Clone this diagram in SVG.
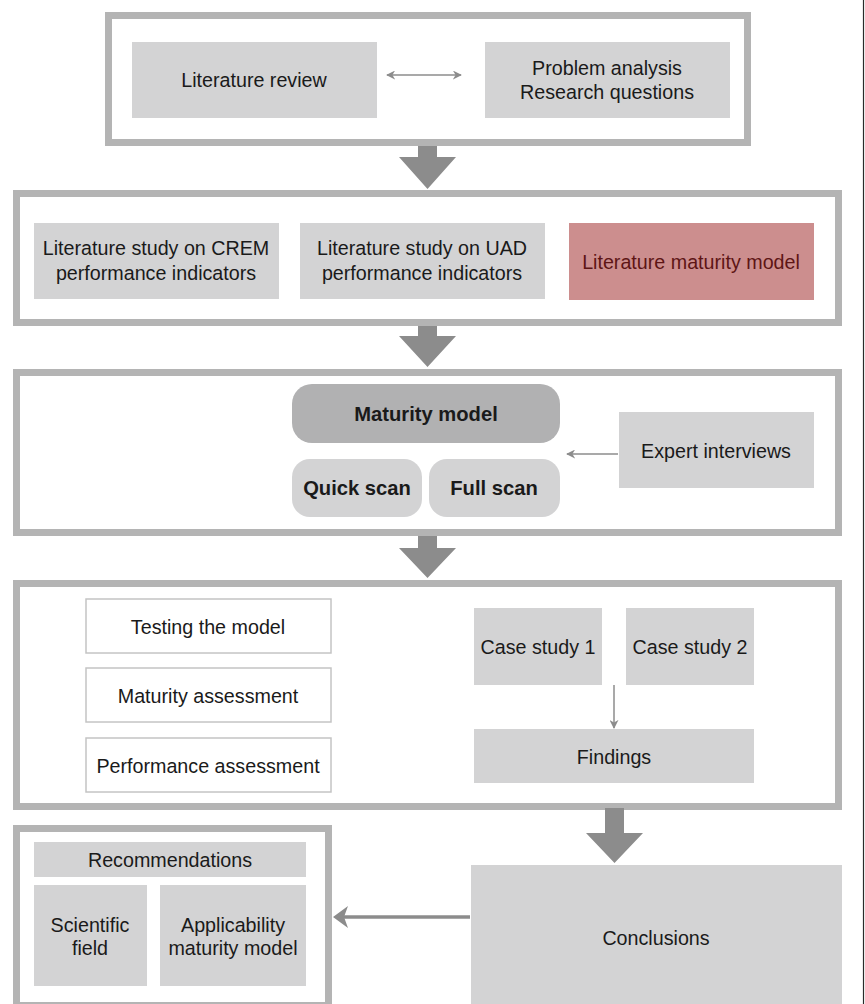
<svg xmlns="http://www.w3.org/2000/svg" width="865" height="1004" viewBox="0 0 865 1004">
  <style>
    .frame { fill: #ffffff; stroke: #b4b4b4; stroke-width: 7; }
    .box { fill: #d3d3d4; }
    .outline { fill: #ffffff; stroke: #c4c4c4; stroke-width: 1.5; }
    .txt { font-family: "Liberation Sans", Arial, sans-serif; font-size: 19.7px; fill: #1a1a1a; text-anchor: middle; dominant-baseline: central; }
    .bold { font-weight: bold; font-size: 20.2px; }
    .big { fill: #8c8c8c; }
    .thin { stroke: #8c8c8c; stroke-width: 1.5; fill: none; }
  </style>
  <defs>
    <marker id="head" viewBox="0 0 10 10" refX="9" refY="5" markerWidth="9" markerHeight="9" markerUnits="userSpaceOnUse" orient="auto-start-reverse">
      <path d="M0,0 L10,5 L0,10 L3,5 Z" fill="#8c8c8c"/>
    </marker>
  </defs>
  <rect width="865" height="1004" fill="#ffffff"/>
  <!-- page edge rule -->
  <line x1="863.5" y1="0" x2="863.5" y2="1004" stroke="#2a2a2a" stroke-width="1.2"/>

  <!-- stage frames -->
  <g id="frame-1"><rect class="frame" x="108.5" y="15.5" width="639" height="127"/></g>
  <g id="frame-2"><rect class="frame" x="16.5" y="193.5" width="822" height="129"/></g>
  <g id="frame-3"><rect class="frame" x="16.5" y="372.5" width="822" height="160"/></g>
  <g id="frame-4"><rect class="frame" x="16.5" y="583.5" width="822" height="223"/></g>
  <g id="frame-5"><rect class="frame" x="16.5" y="828.5" width="312" height="177"/></g>

  <!-- connectors -->
  <g id="connectors">
    <!-- block arrows between stages -->
    <polygon class="big" points="418,146 437,146 437,157 456,157 427.5,189 399,157 418,157"/>
    <polygon class="big" points="418,326 437,326 437,336 456,336 427.5,367 399,336 418,336"/>
    <polygon class="big" points="418,536 437,536 437,548 456,548 427.5,578 399,548 418,548"/>
    <polygon class="big" points="605,808 624,808 624,833 643,833 614.5,863 586,833 605,833"/>
    <!-- thin arrows -->
    <line class="thin" x1="387" y1="75" x2="461" y2="75" marker-start="url(#head)" marker-end="url(#head)"/>
    <line class="thin" x1="618" y1="454" x2="567" y2="454" marker-end="url(#head)"/>
    <line class="thin" x1="614" y1="685" x2="614" y2="728" marker-end="url(#head)"/>
    <!-- conclusions to recommendations -->
    <line x1="470" y1="917" x2="342" y2="917" stroke="#8c8c8c" stroke-width="3.5"/>
    <polygon class="big" points="333,917 348,906 344,917 348,928"/>
  </g>

  <!-- stage 1 -->
  <g id="literature-review">
    <rect class="box" x="132" y="42" width="245" height="76"/>
    <text class="txt" x="254" y="80">Literature review</text>
  </g>
  <g id="problem-analysis">
    <rect class="box" x="485" y="42" width="245" height="76"/>
    <text class="txt" x="607" y="68">Problem analysis</text>
    <text class="txt" x="607" y="92">Research questions</text>
  </g>

  <!-- stage 2 -->
  <g id="crem-study">
    <rect class="box" x="34" y="223" width="245" height="76"/>
    <text class="txt" x="156" y="248">Literature study on CREM</text>
    <text class="txt" x="156" y="273">performance indicators</text>
  </g>
  <g id="uad-study">
    <rect class="box" x="300" y="223" width="245" height="76"/>
    <text class="txt" x="422" y="248">Literature study on UAD</text>
    <text class="txt" x="422" y="273">performance indicators</text>
  </g>
  <g id="literature-maturity-model">
    <rect x="569" y="223" width="245" height="77" fill="#cc8e8e"/>
    <text class="txt" x="691" y="262" style="fill:#5e1515">Literature maturity model</text>
  </g>

  <!-- stage 3 -->
  <g id="maturity-model">
    <rect x="292" y="384" width="268" height="59" rx="20" fill="#b1b1b2"/>
    <text class="txt bold" x="426" y="414">Maturity model</text>
  </g>
  <g id="quick-scan">
    <rect class="box" x="292" y="459" width="130" height="58" rx="18"/>
    <text class="txt bold" x="357" y="488">Quick scan</text>
  </g>
  <g id="full-scan">
    <rect class="box" x="429" y="459" width="131" height="58" rx="18"/>
    <text class="txt bold" x="494" y="488">Full scan</text>
  </g>
  <g id="expert-interviews">
    <rect class="box" x="619" y="412" width="195" height="76"/>
    <text class="txt" x="716" y="451">Expert interviews</text>
  </g>

  <!-- stage 4 -->
  <g id="testing-model">
    <rect class="outline" x="86" y="599" width="245" height="54"/>
    <text class="txt" x="208" y="627">Testing the model</text>
  </g>
  <g id="maturity-assessment">
    <rect class="outline" x="86" y="668" width="245" height="54"/>
    <text class="txt" x="208" y="696">Maturity assessment</text>
  </g>
  <g id="performance-assessment">
    <rect class="outline" x="86" y="738" width="245" height="54"/>
    <text class="txt" x="208" y="766">Performance assessment</text>
  </g>
  <g id="case-study-1">
    <rect class="box" x="474" y="608" width="128" height="77"/>
    <text class="txt" x="538" y="647">Case study 1</text>
  </g>
  <g id="case-study-2">
    <rect class="box" x="626" y="608" width="128" height="77"/>
    <text class="txt" x="690" y="647">Case study 2</text>
  </g>
  <g id="findings">
    <rect class="box" x="474" y="729" width="280" height="54"/>
    <text class="txt" x="614" y="757">Findings</text>
  </g>

  <!-- stage 5 -->
  <g id="recommendations">
    <rect class="box" x="34" y="842" width="272" height="35"/>
    <text class="txt" x="170" y="860">Recommendations</text>
  </g>
  <g id="scientific-field">
    <rect class="box" x="34" y="885" width="113" height="101"/>
    <text class="txt" x="90" y="925">Scientific</text>
    <text class="txt" x="90" y="948">field</text>
  </g>
  <g id="applicability">
    <rect class="box" x="160" y="885" width="146" height="101"/>
    <text class="txt" x="233" y="925">Applicability</text>
    <text class="txt" x="233" y="948">maturity model</text>
  </g>
  <g id="conclusions">
    <rect class="box" x="471" y="865" width="371" height="145"/>
    <text class="txt" x="656" y="938">Conclusions</text>
  </g>
</svg>
